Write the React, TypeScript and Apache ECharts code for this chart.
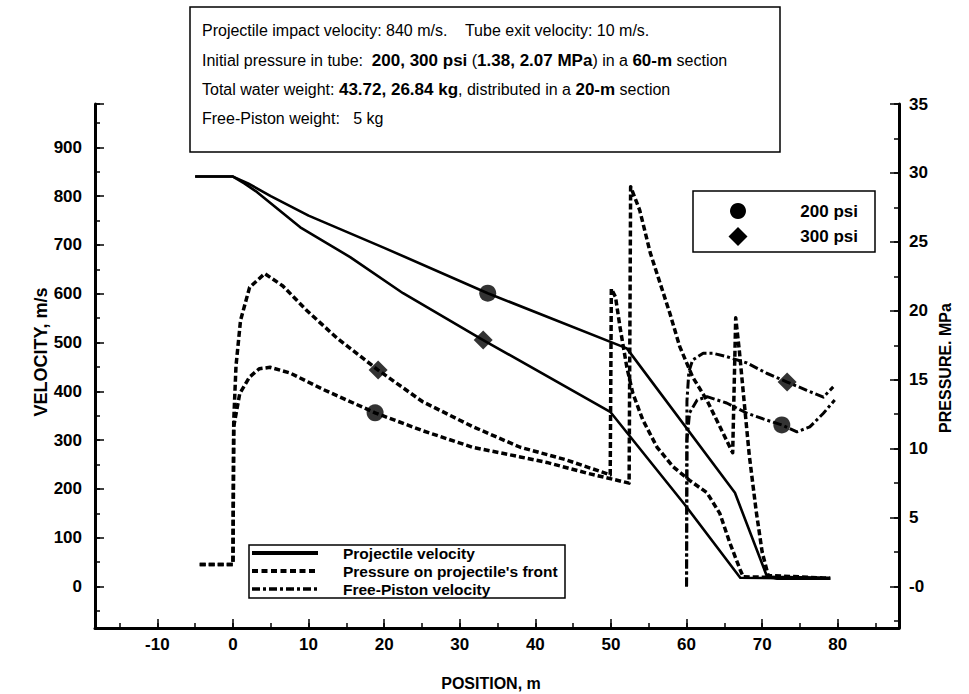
import React, { useEffect, useRef } from 'react';
import * as echarts from 'echarts';

// ---------- data ----------
// Projectile velocity (m/s) vs position (m)
const projVel200: [number, number][] = [
  [-5, 840], [0, 840], [2, 826], [5, 800], [10, 760], [20, 694], [33.7, 601],
  [52.1, 488], [66.4, 192], [70.6, 22], [72, 16], [79, 16],
];
const projVel300: [number, number][] = [
  [-5, 840], [0, 840], [1.5, 826], [3.2, 808], [8.9, 736], [15.5, 675], [22.5, 601],
  [33.1, 505], [49.9, 358], [59.8, 167], [67.1, 18], [79, 16],
];
// Pressure on projectile's front (MPa) vs position (m)
const press200: [number, number][] = [
  [-4.4, 1.6], [0, 1.6], [0.1, 11.6], [0.9, 14.0], [2.2, 15.2], [3.5, 15.8], [4.9, 15.9],
  [7.5, 15.5], [11.9, 14.3], [18.8, 12.6], [25.1, 11.3], [31.7, 10.1], [38.0, 9.4],
  [41.5, 9.0], [47, 8.2], [52.4, 7.5],
  [52.6, 29.0], [53.8, 27.3], [55.2, 24.2], [56.5, 22.0], [57.8, 19.8], [59.1, 17.4],
  [60.8, 15.2], [62.7, 13.5], [64.4, 11.6], [66.1, 9.7],
  [66.5, 19.5], [67.0, 17.0], [67.6, 13.5], [68.3, 9.5], [69.2, 5.5], [70.0, 2.5],
  [70.8, 0.8], [79, 0.6],
];
const press300: [number, number][] = [
  [-4.4, 1.6], [0, 1.6], [0.1, 12], [0.4, 16], [1.0, 19.3], [2.2, 21.7], [4.2, 22.7],
  [6.6, 21.8], [9.8, 20.0], [13.8, 18.0], [19.2, 15.7], [25.1, 13.4], [31.7, 11.6],
  [38.0, 10.1], [44, 9.2], [49.9, 8.1],
  [50.05, 21.6], [50.6, 21.0], [51.2, 18.8], [52.1, 15.9], [52.9, 14.0], [54.2, 12.1],
  [56.1, 10.1], [58.2, 8.7], [60.4, 7.7], [62.7, 6.8], [64.4, 5.3], [65.7, 3.2],
  [67.1, 1.2], [67.5, 0.7], [79, 0.6],
];
// Free-piston velocity (m/s) vs position (m)
const piston200: [number, number][] = [
  [60, 0], [60.05, 300], [60.4, 356], [61.4, 382], [62.7, 389], [65.3, 376], [68, 355],
  [70.6, 341], [72.6, 331], [74.6, 317], [76.3, 327], [78.1, 355], [79.6, 382],
];
const piston300: [number, number][] = [
  [60, 0], [60.05, 380], [60.3, 440], [60.8, 464], [62.2, 478], [63.5, 478], [65.3, 471],
  [68, 458], [70.6, 437], [73.3, 419], [75.9, 402], [78.1, 388], [79.4, 409],
];
// Identification markers
const marks200Vel: [number, number][] = [[33.7, 601], [72.6, 331]];
const marks200Press: [number, number][] = [[18.8, 12.6]];
const marks300Vel: [number, number][] = [[33.1, 505], [73.3, 419]];
const marks300Press: [number, number][] = [[19.2, 15.7]];

// Axis ranges / tick steps
const positionRange = [-18.25, 88.1];
const velocityRange = [-85, 988.7];
const pressureRange = [-3.01, 35];
const positionStep = 10;
const velocityStep = 100;
const pressureStep = 5;

// Texts
const lineLegendLabels = ['Projectile velocity', "Pressure on projectile's front", 'Free-Piston velocity'];
const markerLegendLabels = ['200 psi', '300 psi'];
const infoLines = [
  '{r|Projectile impact velocity: 840 m/s.    Tube exit velocity: 10 m/s.}',
  '{r|Initial pressure in tube:  }{b|200, 300 psi}{r| (}{b|1.38, 2.07 MPa}{r|) in a }{b|60-m}{r| section}',
  '{r|Total water weight: }{b|43.72, 26.84 kg}{r|, distributed in a }{b|20-m}{r| section}',
  '{r|Free-Piston weight:   5 kg}',
];

const FONT = "'Liberation Sans', Arial, Helvetica, sans-serif";

const isMultiple = (v: number, step: number) => Math.abs(v / step - Math.round(v / step)) < 1e-6;

function makeAxisBase(extra: any) {
  return {
    type: 'value',
    axisLine: { show: true, onZero: false, lineStyle: { color: '#000', width: 3 } },
    axisTick: { show: true, inside: true, length: 9, lineStyle: { color: '#000', width: 1.5 } },
    splitLine: { show: false },
    ...extra,
  };
}

function makeMinorAxis(extra: any) {
  return {
    type: 'value',
    axisLine: { show: false, onZero: false },
    axisTick: { show: true, inside: true, length: 5, lineStyle: { color: '#000', width: 1.5 } },
    axisLabel: { show: false },
    splitLine: { show: false },
    ...extra,
  };
}

const tickFont = { color: '#000', fontFamily: FONT, fontWeight: 'bold', fontSize: 17 };

export default function App() {
  const ref = useRef<HTMLDivElement>(null);
  useEffect(() => {
    if (!ref.current) return;
    const chart = echarts.init(ref.current, null, { renderer: 'svg' });

    const lineSeries = (name: string, data: [number, number][], yAxisIndex: number, lineStyle: any) => ({
      name,
      type: 'line',
      data,
      xAxisIndex: 0,
      yAxisIndex,
      showSymbol: false,
      symbol: 'none',
      lineStyle: { color: '#000', cap: 'butt', join: 'round', ...lineStyle },
      z: 3,
    });
    const solid = { width: 2.6, type: 'solid' };
    const dashed = { width: 3.5, type: [6, 3] };
    const dashDot = { width: 3, type: [9, 3, 3, 3] };

    const markSeries = (name: string, data: [number, number][], yAxisIndex: number, symbol: string, size: number) => ({
      name,
      type: 'scatter',
      data,
      xAxisIndex: 0,
      yAxisIndex,
      symbol,
      symbolSize: size,
      itemStyle: { color: '#000' },
      z: 5,
    });

    const textStyleRich = {
      r: { fontSize: 16, fontFamily: FONT, fontWeight: 'normal', fill: '#000' },
      b: { fontSize: 17, fontFamily: FONT, fontWeight: 'bold', fill: '#000' },
    };
    const infoY = [30, 60, 89, 118];
    const legendY = [553, 571, 589];

    const option: any = {
      animation: false,
      backgroundColor: '#fff',
      grid: { left: 95, right: 70, top: 104, bottom: 66, containLabel: false, outerBoundsMode: 'none' },
      xAxis: [
        makeAxisBase({
          position: 'bottom',
          min: positionRange[0],
          max: positionRange[1],
          splitNumber: 10,
          minInterval: positionStep,
          maxInterval: positionStep,
          axisLabel: {
            ...tickFont, margin: 8,
            formatter: (v: number) => (isMultiple(v, positionStep) ? String(Math.round(v)) : ''),
          },
        }),
        makeMinorAxis({
          position: 'bottom',
          min: positionRange[0],
          max: positionRange[1],
          splitNumber: 20,
          minInterval: positionStep / 2,
          maxInterval: positionStep / 2,
        }),
      ],
      yAxis: [
        makeAxisBase({
          position: 'left',
          min: velocityRange[0],
          max: velocityRange[1],
          splitNumber: 10,
          minInterval: velocityStep,
          maxInterval: velocityStep,
          axisLabel: {
            ...tickFont, margin: 13,
            formatter: (v: number) => (isMultiple(v, velocityStep) ? String(Math.round(v)) : ''),
          },
        }),
        makeAxisBase({
          position: 'right',
          min: pressureRange[0],
          max: pressureRange[1],
          splitNumber: 7,
          minInterval: pressureStep,
          maxInterval: pressureStep,
          axisLabel: {
            ...tickFont, margin: 10,
            formatter: (v: number) =>
              isMultiple(v, pressureStep) ? (Math.abs(v) < 1e-9 ? '-0' : String(Math.round(v))) : '',
          },
        }),
        makeMinorAxis({
          position: 'left',
          min: velocityRange[0],
          max: velocityRange[1],
          splitNumber: 20,
          minInterval: velocityStep / 2,
          maxInterval: velocityStep / 2,
        }),
        makeMinorAxis({
          position: 'right',
          min: pressureRange[0],
          max: pressureRange[1],
          splitNumber: 15,
          minInterval: pressureStep / 2,
          maxInterval: pressureStep / 2,
        }),
      ],
      series: [
        lineSeries('Projectile velocity 200 psi', projVel200, 0, solid),
        lineSeries('Projectile velocity 300 psi', projVel300, 0, solid),
        lineSeries("Pressure on projectile's front 200 psi", press200, 1, dashed),
        lineSeries("Pressure on projectile's front 300 psi", press300, 1, dashed),
        lineSeries('Free-Piston velocity 200 psi', piston200, 0, dashDot),
        lineSeries('Free-Piston velocity 300 psi', piston300, 0, dashDot),
        markSeries('200 psi', marks200Vel, 0, 'circle', 17),
        markSeries('200 psi', marks200Press, 1, 'circle', 17),
        markSeries('300 psi', marks300Vel, 0, 'diamond', 19),
        markSeries('300 psi', marks300Press, 1, 'diamond', 19),
      ],
      graphic: [
        // info box
        {
          type: 'rect', z: 10,
          shape: { x: 190, y: 7, width: 590, height: 145 },
          style: { fill: '#fff', stroke: '#000', lineWidth: 1.5 },
        },
        ...infoLines.map((t, i) => ({
          type: 'text', z: 11, x: 202, y: infoY[i],
          style: { text: t, rich: textStyleRich, verticalAlign: 'middle', align: 'left', fill: '#000' },
        })),
        // line legend box
        {
          type: 'rect', z: 10,
          shape: { x: 249, y: 545, width: 316, height: 53 },
          style: { fill: '#fff', stroke: '#000', lineWidth: 1.5 },
        },
        {
          type: 'line', z: 11,
          shape: { x1: 252, y1: legendY[0], x2: 318, y2: legendY[0] },
          style: { stroke: '#000', lineWidth: 4 },
        },
        {
          type: 'line', z: 11,
          shape: { x1: 252, y1: legendY[1], x2: 318, y2: legendY[1] },
          style: { stroke: '#000', lineWidth: 4, lineDash: [6, 3.5] },
        },
        {
          type: 'line', z: 11,
          shape: { x1: 252, y1: legendY[2], x2: 318, y2: legendY[2] },
          style: { stroke: '#000', lineWidth: 3.5, lineDash: [8, 3, 3, 3] },
        },
        ...lineLegendLabels.map((t, i) => ({
          type: 'text', z: 11, x: 343, y: legendY[i],
          style: {
            text: t, fill: '#000', font: `bold 15.5px ${FONT}`,
            verticalAlign: 'middle', align: 'left',
          },
        })),
        // marker legend box
        {
          type: 'rect', z: 10,
          shape: { x: 693, y: 191, width: 182, height: 61 },
          style: { fill: '#fff', stroke: '#000', lineWidth: 1.5 },
        },
        { type: 'circle', z: 11, shape: { cx: 738, cy: 211, r: 8 }, style: { fill: '#000' } },
        {
          type: 'polygon', z: 11,
          shape: { points: [[738, 227], [747.5, 236.5], [738, 246], [728.5, 236.5]] },
          style: { fill: '#000' },
        },
        ...markerLegendLabels.map((t, i) => ({
          type: 'text', z: 11, x: 858, y: [211, 236][i],
          style: {
            text: t, fill: '#000', font: `bold 17px ${FONT}`,
            verticalAlign: 'middle', align: 'right',
          },
        })),
        // axis names
        {
          type: 'text', z: 11, x: 41, y: 352, rotation: Math.PI / 2,
          style: { text: 'VELOCITY, m/s', fill: '#000', font: `bold 18px ${FONT}`, align: 'center', verticalAlign: 'middle' },
        },
        {
          type: 'text', z: 11, x: 945, y: 368, rotation: Math.PI / 2,
          style: { text: 'PRESSURE. MPa', fill: '#000', font: `bold 16px ${FONT}`, align: 'center', verticalAlign: 'middle' },
        },
        {
          type: 'text', z: 11, x: 491, y: 683,
          style: { text: 'POSITION, m', fill: '#000', font: `bold 16px ${FONT}`, align: 'center', verticalAlign: 'middle' },
        },
      ],
    };

    chart.setOption(option);
    return () => chart.dispose();
  }, []);

  return (
    <div
      ref={ref}
      style={{ position: 'absolute', left: 0, top: 0, width: 969, height: 694, background: '#fff' }}
    />
  );
}
